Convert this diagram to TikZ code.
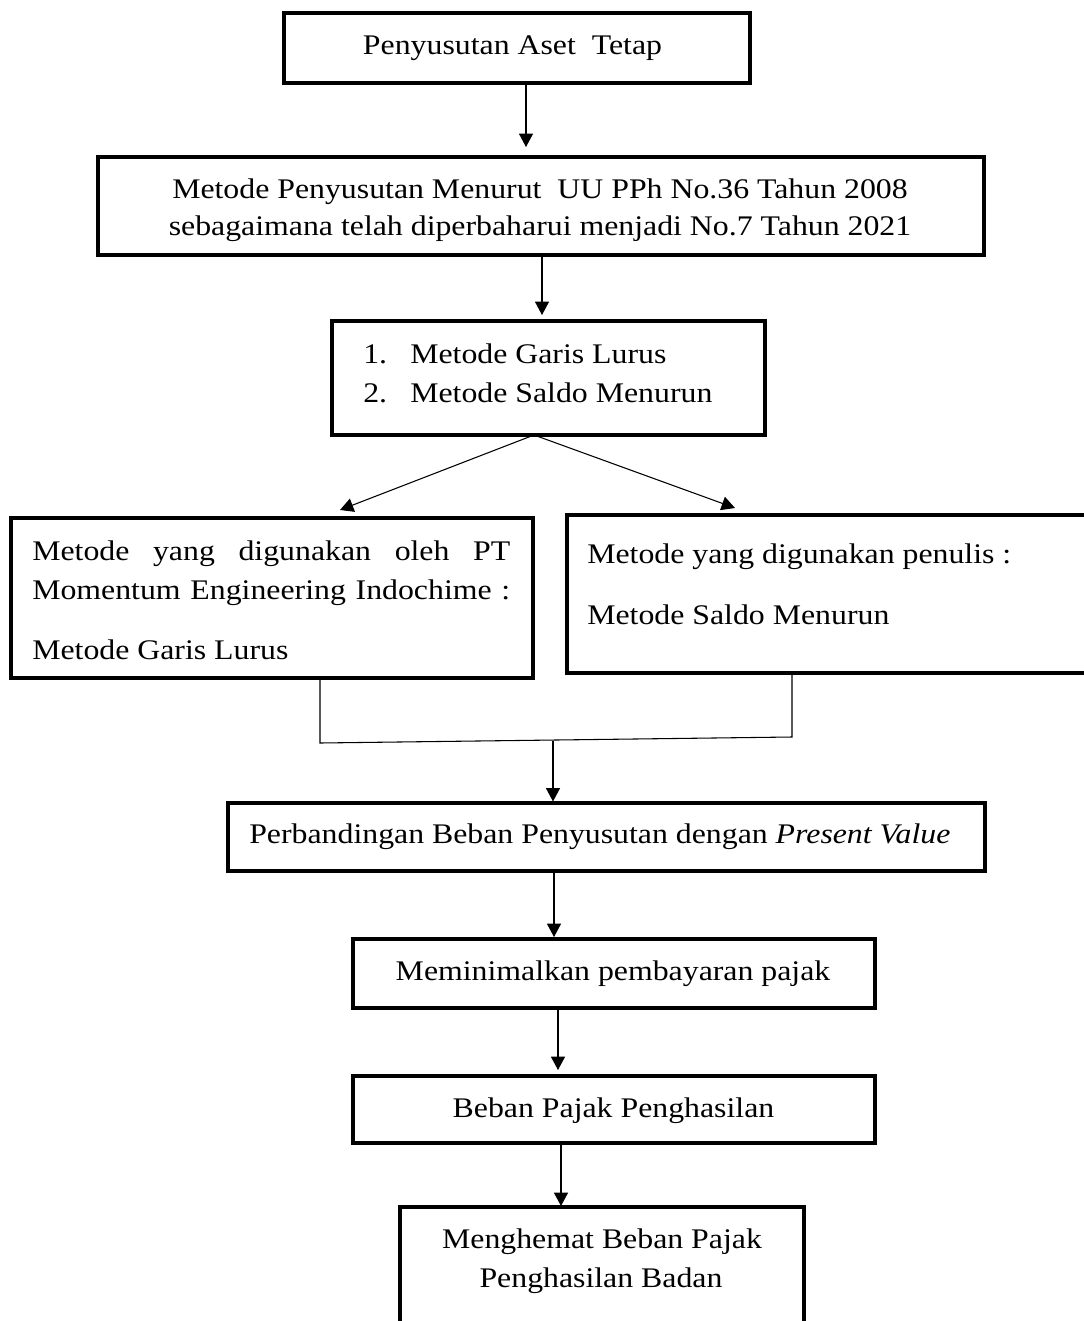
\documentclass[tikz,border=0pt]{standalone}
\usepackage{fontspec}
\setmainfont{Liberation Serif}[FakeStretch=1.12]
\usetikzlibrary{arrows.meta}
\begin{document}
\begin{tikzpicture}[x=0.75pt,y=-0.75pt,
  box/.style={draw=black, line width=2.3pt, rectangle, inner sep=0pt},
  txt/.style={inner sep=0pt, anchor=base, font=\fontsize{21.3pt}{25pt}\selectfont},
  txtl/.style={txt, anchor=base west},
  arr/.style={line width=0.8pt, -{Triangle[length=10pt,width=10.5pt]}},
  link/.style={line width=0.8pt}]
\useasboundingbox (0,0) rectangle (1084,1321);
\clip (0,0) rectangle (1084,1321);
% boxes
\node[box, minimum width=349.5pt, minimum height=52.5pt] (b1) at (517,48) {};
\node[box, minimum width=664.5pt, minimum height=73.5pt] (b2) at (541,206) {};
\node[box, minimum width=324.75pt, minimum height=85.5pt] (b3) at (548.5,378) {};
\node[box, minimum width=391.5pt, minimum height=120pt] (b4) at (272,598) {};
\node[box, minimum width=396pt, minimum height=118.5pt] (b5) at (831,594) {};
\node[box, minimum width=567.75pt, minimum height=51pt] (b6) at (606.5,837) {};
\node[box, minimum width=391.5pt, minimum height=51.75pt] (b7) at (614,973.5) {};
\node[box, minimum width=391.5pt, minimum height=50.25pt] (b8) at (614,1109.5) {};
\node[box, minimum width=303pt, minimum height=96pt] (b9) at (602,1271) {};
% texts
\node[txt] (t1) at (512.5,54) {Penyusutan Aset~~Tetap};
\node[txt] (t2a) at (540,198) {Metode Penyusutan Menurut~~UU PPh No.36 Tahun 2008};
\node[txt] (t2b) at (540,235) {sebagaimana telah diperbaharui menjadi No.7 Tahun 2021};
\node[txtl] (t3a) at (363,363) {1.};
\node[txtl] (t3b) at (410,363) {Metode Garis Lurus};
\node[txtl] (t3c) at (363,402) {2.};
\node[txtl] (t3d) at (410,402) {Metode Saldo Menurun};
\node[txtl] (t4a) at (32,560) {\hbox to 358.5pt{Metode\hfill yang\hfill digunakan\hfill oleh\hfill PT}};
\node[txtl] (t4b) at (32,599) {\hbox to 358.5pt{Momentum\ \hfill Engineering\ \hfill Indochime\ \hfill :}};
\node[txtl] (t4c) at (32,659) {Metode Garis Lurus};
\node[txtl] (t5a) at (587,563) {Metode yang digunakan penulis :};
\node[txtl] (t5b) at (587,624) {Metode Saldo Menurun};
\node[txtl] (t6) at (249,843) {Perbandingan Beban Penyusutan dengan \textit{Present Value}};
\node[txt] (t7) at (613,980) {Meminimalkan pembayaran pajak};
\node[txt] (t8) at (613.5,1117) {Beban Pajak Penghasilan};
\node[txt] (t9a) at (602,1248) {Menghemat Beban Pajak};
\node[txt] (t9b) at (601,1287) {Penghasilan Badan};
% connector points
\coordinate (p1) at (526,147);
\coordinate (p2) at (542,315);
\coordinate (br) at (534,435);
\coordinate (p4) at (340,510);
\coordinate (p5) at (735,508);
\coordinate (j1) at (320,743);
\coordinate (j2) at (792,737);
\coordinate (jm) at (553,741);
\coordinate (p6) at (554,937);
\coordinate (p7) at (558,1070);
\coordinate (p8) at (561,1206);
% connectors
\draw[arr] (b1.south -| p1) -- (p1);
\draw[arr] (b2.south -| p2) -- (p2);
\draw[arr] (br) -- (p4);
\draw[arr] (br) -- (p5);
\draw[link] (b4.south -| j1) -- (j1) -- (j2) -- (b5.south -| j2);
\draw[arr] (jm) -- (jm |- b6.north);
\draw[arr] (b6.south -| p6) -- (p6);
\draw[arr] (b7.south -| p7) -- (p7);
\draw[arr] (b8.south -| p8) -- (p8);
\end{tikzpicture}
\end{document}
